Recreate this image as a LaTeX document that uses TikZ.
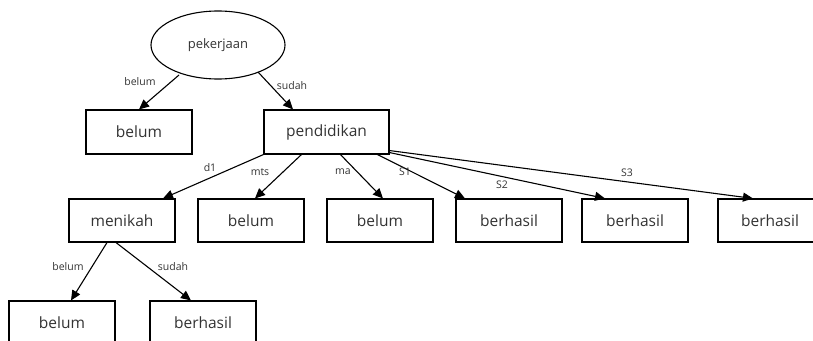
\documentclass[tikz,border=0pt]{standalone}
\usepackage{fontspec}
\setmainfont{Open Sans}
\usetikzlibrary{arrows.meta,shapes.geometric}
\begin{document}
\begin{tikzpicture}[x=1pt,y=1pt,
  box/.style={draw=black,line width=1.1pt,minimum width=106pt,minimum height=44pt,inner sep=0pt,font=\fontsize{15.5}{18}\selectfont,text=black!80},
  oval/.style={draw=black,line width=1.1pt,ellipse,minimum width=134pt,minimum height=68pt,inner sep=0pt,font=\fontsize{13}{16}\selectfont,text=black!80},
  lbl/.style={font=\fontsize{10.5}{12}\selectfont,text=black!80,inner sep=0pt},
  arr/.style={line width=1.1pt,-{Triangle[length=10pt,width=9pt]}}]
\useasboundingbox (0,0) rectangle (813,-340);
\begin{scope}
\clip (0,0) rectangle (813,-340);
\node[oval] (root) at (218,-45) {pekerjaan};
\node[box] (b1) at (139,-132) {belum};
\node[box,minimum width=125pt] (pend) at (326.5,-132) {pendidikan};
\node[box,minimum height=43pt] (men) at (122,-220.5) {menikah};
\node[box,minimum height=43pt] (b2) at (251,-220.5) {belum};
\node[box,minimum height=43pt] (b3) at (380,-220.5) {belum};
\node[box,minimum height=43pt] (h1) at (509,-220.5) {berhasil};
\node[box,minimum height=43pt] (h2) at (635,-220.5) {berhasil};
\node[box,minimum width=104pt,minimum height=43pt] (h3) at (770,-220.5) {berhasil};
\node[box] (b4) at (62,-323) {belum};
\node[box] (h4) at (203,-323) {berhasil};

\coordinate (r1) at (179,-75);
\coordinate (r2) at (258,-72);
\draw[arr] (r1) -- (b1.north);
\draw[arr] (r2) -- ([xshift=-33.5pt]pend.north);

\draw[arr] (pend.south west) -- ([xshift=41pt]men.north);
\draw[arr] ([xshift=38pt]pend.south west) -- ([xshift=4pt]b2.north);
\draw[arr] ([xshift=77pt]pend.south west) -- ([xshift=3pt]b3.north);
\draw[arr] ([xshift=114pt]pend.south west) -- ([xshift=-44pt]h1.north);
\draw[arr] ([yshift=2pt]pend.south east) -- ([xshift=-30pt]h2.north);
\draw[arr] ([yshift=4pt]pend.south east) -- ([xshift=-17pt]h3.north);

\draw[arr] ([xshift=-15pt]men.south) -- ([xshift=9pt]b4.north);
\draw[arr] ([xshift=-6pt]men.south) -- ([xshift=-12pt]h4.north);
\end{scope}

\node[lbl] (l1) at (140,-82) {belum};
\node[lbl] (l2) at (292,-86) {sudah};
\node[lbl] (l3) at (210,-168) {d1};
\node[lbl] (l4) at (260,-172) {mts};
\node[lbl] (l5) at (343,-172) {ma};
\node[lbl] (l6) at (405,-172) {S1};
\node[lbl] (l7) at (502,-185) {S2};
\node[lbl] (l8) at (627,-173) {S3};
\node[lbl] (l9) at (68,-267) {belum};
\node[lbl] (l10) at (173,-267) {sudah};
\end{tikzpicture}
\end{document}
